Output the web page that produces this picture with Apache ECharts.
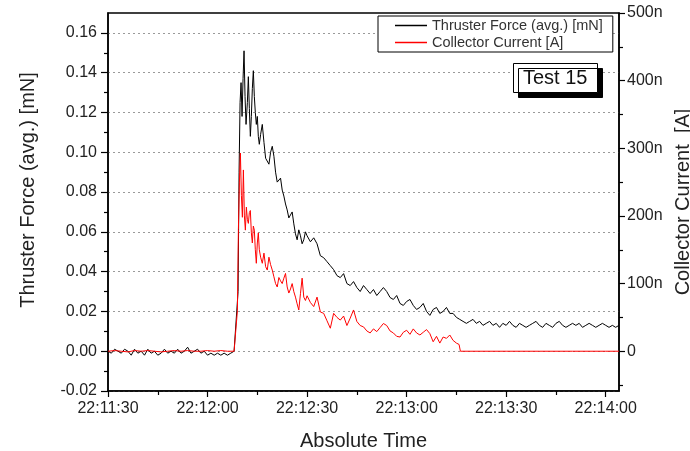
<!DOCTYPE html>
<html>
	<head>
		<meta charset="UTF-8" />
		<title>Test 15</title>
		<style>
			html, body { margin: 0; padding: 0; background: #fff; }
			#chart { width: 690px; height: 451px; }
		</style>
	</head>
	<body>
		<div id="chart"></div>
		<script type="text/javascript" src="https://cdn.jsdelivr.net/npm/echarts@6.0.0/dist/echarts.min.js"></script>
		<script type="text/javascript">
			// seconds after 22:11:30
			const forceTime = [
				0, 1, 2, 3, 4, 5, 6, 7, 8, 9, 10, 11, 12, 13, 14, 15, 16, 17, 18, 19,
				20, 21, 22, 23, 24, 25, 26, 27, 28, 29, 30, 31, 32, 33, 34, 35, 36, 37, 38,
				38.6, 39.2, 39.5, 39.8, 40.1, 40.4, 40.7, 41.0, 41.3, 41.6, 42.0, 42.3, 42.6, 42.9,
				43.2, 43.5, 43.8, 44.1, 44.4, 44.7, 45.0, 45.3, 45.6, 46.0, 46.5, 47.0, 47.5, 48.0,
				48.5, 49.0, 49.5, 50.0, 50.5, 51.0, 51.5, 52.0, 52.5, 53.0, 53.5, 54.0, 54.5, 55.0,
				55.5, 56.0, 56.5, 57.0, 57.5, 58.0, 58.5, 59.0, 59.5, 60,
				61, 62, 63, 64, 65, 66, 67, 68, 69, 70, 71, 72, 73, 74, 75, 76, 77, 78, 79, 80,
				81, 82, 83, 84, 85, 86, 87, 88, 89, 90, 91, 92, 93, 94, 95, 96, 97, 98, 99, 100,
				101, 102, 103, 104, 105, 106, 107, 108, 109, 110, 111, 112, 113, 114, 115, 116, 117, 118, 119, 120,
				121, 122, 123, 124, 125, 126, 127, 128, 129, 130, 131, 132, 133, 134, 135, 136, 137, 138, 139, 140,
				141, 142, 143, 144, 145, 146, 147, 148, 149, 150, 151, 152, 153, 154
			];
			// mN
			const forceValues = [
				0.000, -0.001, 0.001, 0.000, -0.001, 0.001, 0.000, -0.002, 0.001, -0.001, 0.000, -0.002, 0.001, -0.001, 0.000, -0.002, -0.001, 0.001, -0.001, 0.000,
				-0.001, 0.001, -0.001, 0.000, 0.002, -0.001, 0.000, 0.001, -0.001, 0.000, -0.002, -0.001, -0.002, -0.001, -0.002, -0.001, -0.002, -0.001, 0.000,
				0.001, 0.030, 0.090, 0.125, 0.135, 0.118, 0.137, 0.151, 0.128, 0.114, 0.125, 0.138, 0.122, 0.108,
				0.118, 0.132, 0.141, 0.128, 0.120, 0.114, 0.118, 0.108, 0.104, 0.109, 0.114, 0.105, 0.097, 0.096,
				0.094, 0.100, 0.103, 0.098, 0.090, 0.085, 0.084, 0.087, 0.081, 0.078, 0.074, 0.071, 0.067, 0.066,
				0.070, 0.064, 0.059, 0.056, 0.061, 0.058, 0.054, 0.056, 0.060, 0.058,
				0.055, 0.057, 0.054, 0.048, 0.047, 0.045, 0.043, 0.041, 0.038, 0.037, 0.039, 0.034, 0.033, 0.035, 0.032, 0.030, 0.033, 0.031, 0.029, 0.031,
				0.028, 0.030, 0.032, 0.030, 0.027, 0.026, 0.028, 0.024, 0.023, 0.025, 0.026, 0.023, 0.021, 0.022, 0.024, 0.020, 0.018, 0.021, 0.022, 0.019,
				0.020, 0.022, 0.019, 0.019, 0.017, 0.016, 0.015, 0.014, 0.015, 0.016, 0.014, 0.015, 0.013, 0.014, 0.015, 0.013, 0.014, 0.012, 0.014, 0.013,
				0.015, 0.013, 0.012, 0.014, 0.013, 0.012, 0.013, 0.014, 0.015, 0.013, 0.012, 0.014, 0.013, 0.012, 0.014, 0.015, 0.013, 0.012, 0.013, 0.014,
				0.013, 0.014, 0.012, 0.013, 0.014, 0.013, 0.012, 0.013, 0.014, 0.013, 0.012, 0.013, 0.012, 0.013
			];
			const currentTime = [
				0, 2, 4, 6, 8, 10, 12, 14, 16, 18, 20, 22, 24, 26, 28, 30, 32, 34, 36, 38,
				38.6, 39.0, 39.3, 39.6, 39.9, 40.2, 40.5, 40.8, 41.1, 41.4, 41.7, 42.0, 42.3, 42.6, 42.9,
				43.2, 43.5, 43.8, 44.1, 44.4, 44.7, 45.0, 45.3, 45.6, 46.0, 46.5, 47.0, 47.5, 48.0,
				48.5, 49.0, 49.5, 50.0, 50.5, 51.0, 51.5, 52.0, 52.5, 53.0, 53.5, 54.0, 54.5, 55.0,
				55.5, 56.0, 56.5, 57.0, 57.5, 58.0, 58.5, 59.0, 59.5, 60,
				61, 62, 63, 64, 65, 66, 67, 68, 69, 70, 71, 72, 73, 74, 75, 76, 77, 78, 79, 80,
				81, 82, 83, 84, 85, 86, 87, 88, 89, 90, 91, 92, 93, 94, 95, 96, 97, 98, 99, 100,
				101, 102, 103, 104, 105, 105.8, 106.2, 110, 120, 130, 140, 150, 154
			];
			// nA
			const currentValues = [
				0, 1, 0, -1, 1, 0, 1, 0, -1, 0, 1, 0, 1, 0, 0, 1, 0, 1, 0, 0,
				2, 60, 180, 250, 293, 230, 198, 268, 200, 179, 213, 195, 189, 205, 208,
				175, 160, 185, 179, 150, 130, 160, 175, 150, 139, 130, 145, 125, 120,
				139, 128, 120, 110, 100, 95, 109, 104, 100, 108, 115, 95, 86, 92,
				100, 88, 80, 70, 61, 85, 108, 80, 75, 82,
				72, 66, 80, 58, 56, 45, 34, 56, 50, 46, 52, 38, 49, 61, 44, 38, 36, 30, 27, 33,
				29, 35, 41, 38, 30, 27, 22, 21, 28, 31, 25, 33, 27, 24, 28, 32, 26, 14, 22, 12,
				21, 19, 24, 16, 12, 10, 0, 0, 0, 0, 0, 0, 0
			];
			const timeTicks = [0, 30, 60, 90, 120, 150];
			const timeMinorTicks = [15, 45, 75, 105, 135];
			const forceTicks = [-0.02, 0, 0.02, 0.04, 0.06, 0.08, 0.10, 0.12, 0.14, 0.16];
			const forceMinorTicks = [-0.01, 0.01, 0.03, 0.05, 0.07, 0.09, 0.11, 0.13, 0.15];
			const currentTicks = [0, 100, 200, 300, 400, 500];
			const currentMinorTicks = [-50, 50, 150, 250, 350, 450];

			const FONT = "'Liberation Sans', Arial, sans-serif";
			const TXT = '#222';

			function pad(n) {
				return (n < 10 ? '0' : '') + n;
			}
			function fmtTime(v) {
				let s = 22 * 3600 + 11 * 60 + 30 + Math.round(v);
				return pad(Math.floor(s / 3600)) + ':' + pad(Math.floor(s / 60) % 60) + ':' + pad(s % 60);
			}
			function zip(xs, ys) {
				return xs.map(function(x, i) { return [x, ys[i]]; });
			}

			const chart = echarts.init(document.getElementById('chart'), null, {renderer: 'canvas'});
			const axisLine = {show: true, onZero: false, lineStyle: {color: '#000', width: 1.5}};
			// extra axes only for the short minor ticks
			const minorAxis = function(ticks) {
				return {
					show: true,
					axisLine: {show: false, onZero: false},
					axisLabel: {show: false},
					splitLine: {show: false},
					axisTick: {show: true, length: 4, customValues: ticks, lineStyle: {color: '#000', width: 1.2}}
				};
			};
			const option = {
				animation: false,
				textStyle: {fontFamily: FONT},
				title: {
					text: 'Test 15',
					left: 513,
					top: 63,
					padding: [5, 10, 5, 10],
					backgroundColor: '#fff',
					borderColor: '#000',
					borderWidth: 1,
					shadowColor: '#000',
					shadowBlur: 0,
					shadowOffsetX: 5,
					shadowOffsetY: 5,
					textStyle: {fontSize: 20, fontWeight: 'normal', color: '#111', fontFamily: FONT}
				},
				legend: {
					orient: 'vertical',
					left: 378,
					top: 16,
					padding: [2, 10, 2, 17],
					itemGap: 2,
					itemWidth: 32,
					itemHeight: 1.5,
					icon: 'rect',
					borderColor: '#000',
					borderWidth: 1,
					backgroundColor: '#fff',
					textStyle: {fontSize: 14.5, color: '#333', fontFamily: FONT},
					data: ['Thruster Force (avg.) [mN]', 'Collector Current [A]']
				},
				grid: {
					left: 108,
					right: 71,
					top: 13,
					bottom: 60,
					outerBoundsMode: 'none',
					containLabel: false,
					show: true,
					borderColor: '#000',
					borderWidth: 1.5,
					backgroundColor: 'transparent'
				},
				xAxis: [{
					type: 'value',
					min: 0,
					max: 154,
					position: 'bottom',
					name: 'Absolute Time',
					nameLocation: 'middle',
					nameGap: 40,
					nameTextStyle: {fontSize: 20, color: TXT},
					axisLine: axisLine,
					axisTick: {show: true, length: 6, customValues: timeTicks, lineStyle: {color: '#000', width: 1.2}},
					axisLabel: {customValues: timeTicks, formatter: fmtTime, fontSize: 16, color: TXT, margin: 10},
					splitLine: {show: false}
				}, Object.assign({type: 'value', min: 0, max: 154, position: 'bottom'}, minorAxis(timeMinorTicks))],
				yAxis: [{
					type: 'value',
					min: -0.02,
					max: 0.17,
					position: 'left',
					name: 'Thruster Force (avg.) [mN]',
					nameLocation: 'middle',
					nameGap: 70,
					nameTextStyle: {fontSize: 20, color: TXT, padding: [0, 0, 0, 24]},
					axisLine: axisLine,
					axisTick: {show: true, length: 7, customValues: forceTicks, lineStyle: {color: '#000', width: 1.2}},
					axisLabel: {customValues: forceTicks, formatter: function(v) { return v.toFixed(2); }, fontSize: 16, color: TXT, margin: 11},
					splitLine: {show: true, lineStyle: {color: '#9a9a9a', width: 1, type: [2, 3]}}
				}, {
					type: 'value',
					min: -58.8,
					max: 500,
					position: 'right',
					name: 'Collector Current  [A]',
					nameLocation: 'middle',
					nameGap: 50,
					nameTextStyle: {fontSize: 20, color: TXT},
					axisLine: axisLine,
					axisTick: {show: true, length: 6, customValues: currentTicks, lineStyle: {color: '#000', width: 1.2}},
					axisLabel: {customValues: currentTicks, formatter: function(v) { return v === 0 ? '0' : v + 'n'; }, fontSize: 16, color: TXT, margin: 8},
					splitLine: {show: false}
				},
				Object.assign({type: 'value', min: -0.02, max: 0.17, position: 'left'}, minorAxis(forceMinorTicks)),
				Object.assign({type: 'value', min: -58.8, max: 500, position: 'right'}, minorAxis(currentMinorTicks))],
				series: [{
					name: 'Thruster Force (avg.) [mN]',
					type: 'line',
					xAxisIndex: 0,
					yAxisIndex: 0,
					symbol: 'none',
					lineStyle: {color: '#000', width: 1},
					itemStyle: {color: '#000'},
					data: zip(forceTime, forceValues)
				}, {
					name: 'Collector Current [A]',
					type: 'line',
					xAxisIndex: 0,
					yAxisIndex: 1,
					symbol: 'none',
					lineStyle: {color: '#ff0000', width: 1},
					itemStyle: {color: '#ff0000'},
					data: zip(currentTime, currentValues)
				}]
			};
			chart.setOption(option);
		</script>
	</body>
</html>
